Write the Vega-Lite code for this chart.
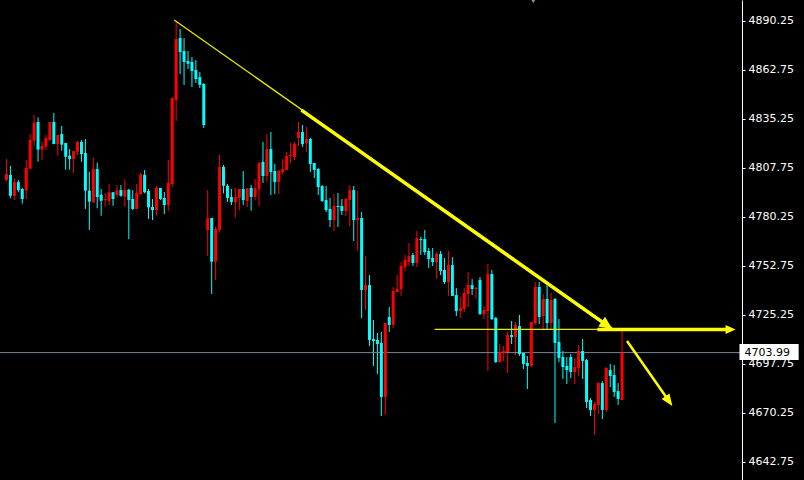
{
 "$schema": "https://vega.github.io/schema/vega-lite/v6.json",
 "width": 742, "height": 480,
 "autosize": {"type": "none"},
 "padding": {"left": 0, "top": 0, "right": 62, "bottom": 0},
 "background": "#000000",
 "config": {"view": {"stroke": null}, "axis": {"grid": false}},
 "resolve": {"axis": {"x": "independent", "y": "independent"}},
 "datasets": {
  "candles": [
   {"i":0,"o":4800.9,"h":4812.6,"l":4799.9,"c":4804.2},
   {"i":1,"o":4803.7,"h":4808.7,"l":4790.6,"c":4792.0},
   {"i":2,"o":4792.0,"h":4801.8,"l":4789.6,"c":4799.7},
   {"i":3,"o":4799.7,"h":4800.9,"l":4794.0,"c":4795.2},
   {"i":4,"o":4795.8,"h":4796.5,"l":4787.6,"c":4790.2},
   {"i":5,"o":4794.9,"h":4812.1,"l":4790.2,"c":4807.6},
   {"i":6,"o":4807.2,"h":4826.7,"l":4807.2,"c":4823.3},
   {"i":7,"o":4822.9,"h":4837.3,"l":4820.1,"c":4833.0},
   {"i":8,"o":4833.4,"h":4836.0,"l":4811.1,"c":4817.9},
   {"i":9,"o":4817.9,"h":4822.3,"l":4812.1,"c":4819.9},
   {"i":10,"o":4819.6,"h":4826.1,"l":4817.7,"c":4824.4},
   {"i":11,"o":4823.3,"h":4833.4,"l":4822.9,"c":4833.4},
   {"i":12,"o":4833.4,"h":4838.5,"l":4821.0,"c":4821.0},
   {"i":13,"o":4821.0,"h":4826.1,"l":4814.5,"c":4826.1},
   {"i":14,"o":4826.7,"h":4831.2,"l":4817.3,"c":4820.7},
   {"i":15,"o":4821.6,"h":4821.6,"l":4806.6,"c":4813.9},
   {"i":16,"o":4814.5,"h":4818.2,"l":4806.6,"c":4812.6},
   {"i":17,"o":4812.6,"h":4817.1,"l":4804.8,"c":4817.1},
   {"i":18,"o":4816.7,"h":4822.7,"l":4814.9,"c":4822.2},
   {"i":19,"o":4822.2,"h":4823.3,"l":4811.1,"c":4815.4},
   {"i":20,"o":4816.0,"h":4823.9,"l":4784.6,"c":4794.9},
   {"i":21,"o":4794.9,"h":4805.5,"l":4772.8,"c":4788.7},
   {"i":22,"o":4788.3,"h":4813.4,"l":4788.3,"c":4807.0},
   {"i":23,"o":4807.0,"h":4810.6,"l":4785.0,"c":4791.3},
   {"i":24,"o":4792.6,"h":4795.8,"l":4780.8,"c":4789.2},
   {"i":25,"o":4789.6,"h":4793.6,"l":4785.9,"c":4790.2},
   {"i":26,"o":4789.2,"h":4798.6,"l":4786.8,"c":4794.0},
   {"i":27,"o":4794.0,"h":4794.0,"l":4786.4,"c":4790.2},
   {"i":28,"o":4792.4,"h":4798.0,"l":4791.1,"c":4795.1},
   {"i":29,"o":4795.2,"h":4798.0,"l":4791.5,"c":4792.0},
   {"i":30,"o":4791.5,"h":4801.4,"l":4785.9,"c":4795.2},
   {"i":31,"o":4795.4,"h":4795.8,"l":4767.7,"c":4789.6},
   {"i":32,"o":4790.2,"h":4795.2,"l":4784.0,"c":4784.6},
   {"i":33,"o":4784.6,"h":4798.6,"l":4784.6,"c":4793.6},
   {"i":34,"o":4793.0,"h":4804.8,"l":4792.4,"c":4804.0},
   {"i":35,"o":4803.7,"h":4806.5,"l":4793.4,"c":4794.0},
   {"i":36,"o":4794.7,"h":4795.8,"l":4779.0,"c":4785.5},
   {"i":37,"o":4785.7,"h":4790.2,"l":4778.4,"c":4784.0},
   {"i":38,"o":4784.0,"h":4797.6,"l":4780.8,"c":4796.5},
   {"i":39,"o":4796.4,"h":4796.4,"l":4789.6,"c":4790.2},
   {"i":40,"o":4790.8,"h":4794.1,"l":4781.8,"c":4786.8},
   {"i":41,"o":4786.8,"h":4812.1,"l":4783.5,"c":4799.2},
   {"i":42,"o":4798.6,"h":4847.4,"l":4796.8,"c":4846.7},
   {"i":43,"o":4845.8,"h":4889.7,"l":4834.0,"c":4880.0},
   {"i":44,"o":4880.5,"h":4885.6,"l":4860.3,"c":4872.7},
   {"i":45,"o":4873.2,"h":4880.5,"l":4854.2,"c":4867.1},
   {"i":46,"o":4867.6,"h":4873.2,"l":4863.2,"c":4866.1},
   {"i":47,"o":4867.1,"h":4869.9,"l":4853.0,"c":4862.0},
   {"i":48,"o":4862.6,"h":4868.2,"l":4855.3,"c":4857.5},
   {"i":49,"o":4858.6,"h":4861.5,"l":4852.5,"c":4854.2},
   {"i":50,"o":4854.7,"h":4855.3,"l":4830.0,"c":4831.7},
   {"i":51,"o":4772.8,"h":4795.2,"l":4758.2,"c":4779.4},
   {"i":52,"o":4779.5,"h":4779.5,"l":4736.9,"c":4755.0},
   {"i":53,"o":4755.0,"h":4774.6,"l":4744.7,"c":4773.4},
   {"i":54,"o":4772.8,"h":4815.0,"l":4771.3,"c":4808.2},
   {"i":55,"o":4808.2,"h":4809.3,"l":4793.4,"c":4797.6},
   {"i":56,"o":4797.6,"h":4798.6,"l":4788.5,"c":4790.8},
   {"i":57,"o":4791.3,"h":4795.8,"l":4786.8,"c":4788.5},
   {"i":58,"o":4788.5,"h":4796.4,"l":4779.7,"c":4791.3},
   {"i":59,"o":4790.8,"h":4795.8,"l":4784.0,"c":4795.8},
   {"i":60,"o":4795.8,"h":4805.9,"l":4786.8,"c":4789.6},
   {"i":61,"o":4789.1,"h":4796.2,"l":4785.7,"c":4796.2},
   {"i":62,"o":4796.4,"h":4798.0,"l":4783.6,"c":4791.3},
   {"i":63,"o":4791.3,"h":4801.4,"l":4789.6,"c":4796.4},
   {"i":64,"o":4795.8,"h":4811.0,"l":4786.3,"c":4810.4},
   {"i":65,"o":4811.0,"h":4822.2,"l":4799.2,"c":4803.1},
   {"i":66,"o":4803.1,"h":4826.7,"l":4799.9,"c":4818.2},
   {"i":67,"o":4818.2,"h":4827.8,"l":4792.4,"c":4805.3},
   {"i":68,"o":4805.9,"h":4809.8,"l":4793.0,"c":4799.7},
   {"i":69,"o":4799.7,"h":4806.5,"l":4793.0,"c":4805.9},
   {"i":70,"o":4805.3,"h":4812.6,"l":4803.7,"c":4807.0},
   {"i":71,"o":4806.5,"h":4816.6,"l":4806.5,"c":4814.3},
   {"i":72,"o":4814.3,"h":4821.6,"l":4810.4,"c":4814.9},
   {"i":73,"o":4813.8,"h":4822.2,"l":4812.1,"c":4821.0},
   {"i":74,"o":4824.4,"h":4833.4,"l":4819.9,"c":4827.8},
   {"i":75,"o":4827.8,"h":4831.7,"l":4819.4,"c":4821.0},
   {"i":76,"o":4821.6,"h":4830.6,"l":4816.6,"c":4823.9},
   {"i":77,"o":4823.9,"h":4824.4,"l":4805.3,"c":4809.8},
   {"i":78,"o":4810.4,"h":4810.4,"l":4801.9,"c":4806.5},
   {"i":79,"o":4807.0,"h":4807.6,"l":4792.4,"c":4796.9},
   {"i":80,"o":4797.5,"h":4798.0,"l":4788.5,"c":4789.1},
   {"i":81,"o":4789.6,"h":4797.5,"l":4782.9,"c":4784.0},
   {"i":82,"o":4784.6,"h":4790.8,"l":4774.5,"c":4778.4},
   {"i":83,"o":4778.4,"h":4793.0,"l":4772.2,"c":4786.3},
   {"i":84,"o":4786.3,"h":4793.6,"l":4774.5,"c":4785.7},
   {"i":85,"o":4786.3,"h":4790.2,"l":4781.2,"c":4783.5},
   {"i":86,"o":4783.5,"h":4790.8,"l":4780.6,"c":4790.2},
   {"i":87,"o":4789.6,"h":4798.0,"l":4775.0,"c":4795.2},
   {"i":88,"o":4795.2,"h":4797.5,"l":4766.6,"c":4778.4},
   {"i":89,"o":4778.4,"h":4794.7,"l":4761.0,"c":4779.5},
   {"i":90,"o":4779.5,"h":4782.9,"l":4723.4,"c":4739.1},
   {"i":91,"o":4739.1,"h":4758.2,"l":4727.9,"c":4741.9},
   {"i":92,"o":4741.9,"h":4747.5,"l":4707.7,"c":4711.1},
   {"i":93,"o":4711.6,"h":4722.3,"l":4696.5,"c":4710.5},
   {"i":94,"o":4711.1,"h":4715.0,"l":4692.0,"c":4708.8},
   {"i":95,"o":4709.4,"h":4715.6,"l":4668.4,"c":4679.1},
   {"i":96,"o":4679.1,"h":4720.6,"l":4669.0,"c":4720.6},
   {"i":97,"o":4724.0,"h":4729.6,"l":4715.6,"c":4719.5},
   {"i":98,"o":4719.5,"h":4740.8,"l":4717.8,"c":4738.6},
   {"i":99,"o":4738.0,"h":4747.5,"l":4738.0,"c":4739.7},
   {"i":100,"o":4739.7,"h":4754.8,"l":4735.8,"c":4752.6},
   {"i":101,"o":4752.0,"h":4758.8,"l":4749.8,"c":4756.0},
   {"i":102,"o":4754.8,"h":4765.5,"l":4752.6,"c":4758.2},
   {"i":103,"o":4758.8,"h":4759.9,"l":4752.6,"c":4754.3},
   {"i":104,"o":4754.3,"h":4772.2,"l":4752.0,"c":4768.3},
   {"i":105,"o":4767.7,"h":4769.0,"l":4758.8,"c":4767.1},
   {"i":106,"o":4767.7,"h":4772.8,"l":4758.8,"c":4760.4},
   {"i":107,"o":4761.0,"h":4762.7,"l":4751.5,"c":4756.5},
   {"i":108,"o":4757.1,"h":4762.7,"l":4752.6,"c":4754.8},
   {"i":109,"o":4754.8,"h":4760.4,"l":4745.3,"c":4759.3},
   {"i":110,"o":4759.3,"h":4761.0,"l":4747.5,"c":4749.8},
   {"i":111,"o":4750.4,"h":4757.1,"l":4742.5,"c":4743.6},
   {"i":112,"o":4743.6,"h":4761.0,"l":4735.8,"c":4753.1},
   {"i":113,"o":4753.1,"h":4757.6,"l":4735.8,"c":4735.8},
   {"i":114,"o":4736.3,"h":4740.2,"l":4724.5,"c":4727.3},
   {"i":115,"o":4727.3,"h":4735.2,"l":4723.4,"c":4729.0},
   {"i":116,"o":4728.5,"h":4740.2,"l":4726.8,"c":4737.4},
   {"i":117,"o":4736.9,"h":4749.2,"l":4729.6,"c":4741.9},
   {"i":118,"o":4741.9,"h":4745.3,"l":4736.3,"c":4739.7},
   {"i":119,"o":4739.7,"h":4740.8,"l":4734.1,"c":4740.2},
   {"i":120,"o":4744.7,"h":4746.4,"l":4725.1,"c":4725.7},
   {"i":121,"o":4725.7,"h":4730.1,"l":4722.8,"c":4727.9},
   {"i":122,"o":4727.3,"h":4753.7,"l":4693.7,"c":4748.1},
   {"i":123,"o":4748.1,"h":4750.4,"l":4722.3,"c":4722.8},
   {"i":124,"o":4723.4,"h":4724.0,"l":4698.2,"c":4698.7},
   {"i":125,"o":4698.7,"h":4708.8,"l":4698.2,"c":4704.3},
   {"i":126,"o":4703.8,"h":4707.7,"l":4699.3,"c":4704.9},
   {"i":127,"o":4704.3,"h":4715.6,"l":4692.5,"c":4713.9},
   {"i":128,"o":4713.9,"h":4721.7,"l":4708.8,"c":4712.7},
   {"i":129,"o":4712.7,"h":4721.2,"l":4702.6,"c":4719.5},
   {"i":130,"o":4718.9,"h":4725.1,"l":4702.1,"c":4703.2},
   {"i":131,"o":4703.8,"h":4703.8,"l":4694.8,"c":4697.6},
   {"i":132,"o":4698.2,"h":4702.1,"l":4683.6,"c":4696.5},
   {"i":133,"o":4696.5,"h":4721.2,"l":4695.9,"c":4721.2},
   {"i":134,"o":4720.6,"h":4743.6,"l":4719.5,"c":4740.8},
   {"i":135,"o":4740.8,"h":4743.6,"l":4720.0,"c":4724.0},
   {"i":136,"o":4724.5,"h":4736.9,"l":4716.7,"c":4734.1},
   {"i":137,"o":4734.1,"h":4741.9,"l":4716.7,"c":4720.6},
   {"i":138,"o":4720.6,"h":4737.4,"l":4716.7,"c":4733.5},
   {"i":139,"o":4734.1,"h":4734.6,"l":4664.5,"c":4709.4},
   {"i":140,"o":4710.0,"h":4722.8,"l":4698.7,"c":4701.0},
   {"i":141,"o":4701.5,"h":4704.9,"l":4689.2,"c":4695.9},
   {"i":142,"o":4696.5,"h":4701.5,"l":4686.4,"c":4694.2},
   {"i":143,"o":4701.5,"h":4703.2,"l":4689.7,"c":4693.1},
   {"i":144,"o":4693.1,"h":4701.0,"l":4686.4,"c":4695.9},
   {"i":145,"o":4695.3,"h":4708.2,"l":4690.9,"c":4704.9},
   {"i":146,"o":4704.9,"h":4711.6,"l":4689.2,"c":4699.3},
   {"i":147,"o":4699.8,"h":4700.4,"l":4672.9,"c":4676.3},
   {"i":148,"o":4677.4,"h":4678.5,"l":4668.4,"c":4671.8},
   {"i":149,"o":4671.8,"h":4676.3,"l":4657.8,"c":4675.1},
   {"i":150,"o":4674.6,"h":4687.5,"l":4669.5,"c":4686.9},
   {"i":151,"o":4686.9,"h":4688.0,"l":4666.7,"c":4671.8},
   {"i":152,"o":4671.8,"h":4695.9,"l":4670.7,"c":4695.3},
   {"i":153,"o":4694.2,"h":4697.6,"l":4684.7,"c":4690.9},
   {"i":154,"o":4691.4,"h":4697.0,"l":4679.1,"c":4681.9},
   {"i":155,"o":4682.4,"h":4686.9,"l":4674.6,"c":4678.0},
   {"i":156,"o":4677.4,"h":4717.2,"l":4677.4,"c":4703.99}
  ],
  "segments": [
   {"k":"thin","x1":42.5,"y1":4890.65,"x2":153.5,"y2":4717.8},
   {"k":"thin","x1":108.5,"y1":4717.0,"x2":182.5,"y2":4717.0},
   {"k":"thick","x1":74.75,"y1":4840.1,"x2":152.18,"y2":4719.3},
   {"k":"thick","x1":149.75,"y1":4717.0,"x2":183.5,"y2":4717.0},
   {"k":"mid","x1":157.25,"y1":4710.5,"x2":167.875,"y2":4676.8}
  ]
 },
 "layer": [
  {
   "data": {"name": "candles"},
   "mark": {"type": "rule", "strokeWidth": 1},
   "encoding": {
    "x": {"field": "i", "type": "quantitative", "scale": {"domain": [-0.375, 185.125], "zero": false, "nice": false}, "axis": null},
    "y": {"field": "l", "type": "quantitative", "scale": {"domain": [4632.5, 4901.87], "zero": false, "nice": false},
     "axis": {"orient": "right", "title": null, "values": [4642.75, 4670.25, 4697.75, 4725.25, 4752.75, 4780.25, 4807.75, 4835.25, 4862.75, 4890.25], "format": ".2f",
      "domainColor": "#ffffff", "domainWidth": 1, "tickColor": "#ffffff", "tickSize": 3, "labelColor": "#ffffff", "labelFont": "DejaVu Sans", "labelFontSize": 11, "labelPadding": 3}},
    "y2": {"field": "h"},
    "color": {"condition": {"test": "datum.c >= datum.o", "value": "#ff0000"}, "value": "#00ffff"}
   }
  },
  {
   "data": {"values": [{"p": 4703.99}]},
   "mark": {"type": "rule", "color": "#7b8797", "strokeWidth": 1},
   "encoding": {
    "y": {"field": "p", "type": "quantitative", "scale": {"domain": [4632.5, 4901.87], "zero": false, "nice": false}, "axis": null}
   }
  },
  {
   "data": {"name": "candles"},
   "mark": {"type": "bar", "width": 3},
   "encoding": {
    "x": {"field": "i", "type": "quantitative", "scale": {"domain": [-0.375, 185.125], "zero": false, "nice": false}, "axis": null},
    "y": {"field": "o", "type": "quantitative", "scale": {"domain": [4632.5, 4901.87], "zero": false, "nice": false}, "axis": null},
    "y2": {"field": "c"},
    "color": {"condition": {"test": "datum.c >= datum.o", "value": "#ff0000"}, "value": "#00ffff"}
   }
  },
  {
   "data": {"name": "segments"},
   "transform": [{"filter": "datum.k == 'thin'"}],
   "mark": {"type": "rule", "color": "#e8e800", "strokeWidth": 1.3},
   "encoding": {
    "x": {"field": "x1", "type": "quantitative", "scale": {"domain": [-0.375, 185.125], "zero": false, "nice": false}, "axis": null},
    "x2": {"field": "x2"},
    "y": {"field": "y1", "type": "quantitative", "scale": {"domain": [4632.5, 4901.87], "zero": false, "nice": false}, "axis": null},
    "y2": {"field": "y2"}
   }
  },
  {
   "data": {"name": "segments"},
   "transform": [{"filter": "datum.k == 'thick'"}],
   "mark": {"type": "rule", "color": "#ffff00", "strokeWidth": 3.5, "strokeCap": "butt"},
   "encoding": {
    "x": {"field": "x1", "type": "quantitative", "scale": {"domain": [-0.375, 185.125], "zero": false, "nice": false}, "axis": null},
    "x2": {"field": "x2"},
    "y": {"field": "y1", "type": "quantitative", "scale": {"domain": [4632.5, 4901.87], "zero": false, "nice": false}, "axis": null},
    "y2": {"field": "y2"}
   }
  },
  {
   "data": {"name": "segments"},
   "transform": [{"filter": "datum.k == 'mid'"}],
   "mark": {"type": "rule", "color": "#ffff00", "strokeWidth": 2.5, "strokeCap": "butt"},
   "encoding": {
    "x": {"field": "x1", "type": "quantitative", "scale": {"domain": [-0.375, 185.125], "zero": false, "nice": false}, "axis": null},
    "x2": {"field": "x2"},
    "y": {"field": "y1", "type": "quantitative", "scale": {"domain": [4632.5, 4901.87], "zero": false, "nice": false}, "axis": null},
    "y2": {"field": "y2"}
   }
  },
  {
   "data": {"values": [{"x": 152.18, "y": 4719.3}]},
   "mark": {"type": "point", "shape": "M-1,-0.9L1,0L-1,0.9Z", "filled": true, "color": "#ffff00", "opacity": 1, "size": 169, "angle": 35},
   "encoding": {
    "x": {"field": "x", "type": "quantitative", "scale": {"domain": [-0.375, 185.125], "zero": false, "nice": false}, "axis": null},
    "y": {"field": "y", "type": "quantitative", "scale": {"domain": [4632.5, 4901.87], "zero": false, "nice": false}, "axis": null}
   }
  },
  {
   "data": {"values": [{"x": 183.5, "y": 4717.0}]},
   "mark": {"type": "point", "shape": "M-1,-0.9L1,0L-1,0.9Z", "filled": true, "color": "#ffff00", "opacity": 1, "size": 100, "angle": 0},
   "encoding": {
    "x": {"field": "x", "type": "quantitative", "scale": {"domain": [-0.375, 185.125], "zero": false, "nice": false}, "axis": null},
    "y": {"field": "y", "type": "quantitative", "scale": {"domain": [4632.5, 4901.87], "zero": false, "nice": false}, "axis": null}
   }
  },
  {
   "data": {"values": [{"x": 167.875, "y": 4676.8}]},
   "mark": {"type": "point", "shape": "M-1,-0.8L1,0L-1,0.8Z", "filled": true, "color": "#ffff00", "opacity": 1, "size": 144, "angle": 55},
   "encoding": {
    "x": {"field": "x", "type": "quantitative", "scale": {"domain": [-0.375, 185.125], "zero": false, "nice": false}, "axis": null},
    "y": {"field": "y", "type": "quantitative", "scale": {"domain": [4632.5, 4901.87], "zero": false, "nice": false}, "axis": null}
   }
  },
  {
   "data": {"values": [{"x": 133.5, "y": 4901.87}]},
   "mark": {"type": "point", "shape": "triangle-down", "filled": true, "color": "#7d8ea2", "opacity": 1, "size": 60},
   "encoding": {
    "x": {"field": "x", "type": "quantitative", "scale": {"domain": [-0.375, 185.125], "zero": false, "nice": false}, "axis": null},
    "y": {"field": "y", "type": "quantitative", "scale": {"domain": [4632.5, 4901.87], "zero": false, "nice": false}, "axis": null}
   }
  },
  {
   "data": {"values": [{"x1": 185.75, "x2": 200.75, "y1": 4708.8, "y2": 4699.8}]},
   "mark": {"type": "rect", "color": "#ffffff", "opacity": 1},
   "encoding": {
    "x": {"field": "x1", "type": "quantitative", "scale": {"domain": [-0.375, 185.125], "zero": false, "nice": false}, "axis": null},
    "x2": {"field": "x2"},
    "y": {"field": "y1", "type": "quantitative", "scale": {"domain": [4632.5, 4901.87], "zero": false, "nice": false}, "axis": null},
    "y2": {"field": "y2"}
   }
  },
  {
   "data": {"values": [{"x": 187.0, "p": 4703.99, "t": "4703.99"}]},
   "mark": {"type": "text", "align": "left", "baseline": "middle", "font": "DejaVu Sans", "fontSize": 11, "color": "#000000"},
   "encoding": {
    "x": {"field": "x", "type": "quantitative", "scale": {"domain": [-0.375, 185.125], "zero": false, "nice": false}, "axis": null},
    "y": {"field": "p", "type": "quantitative", "scale": {"domain": [4632.5, 4901.87], "zero": false, "nice": false}, "axis": null},
    "text": {"field": "t", "type": "nominal"}
   }
  }
 ]
}
